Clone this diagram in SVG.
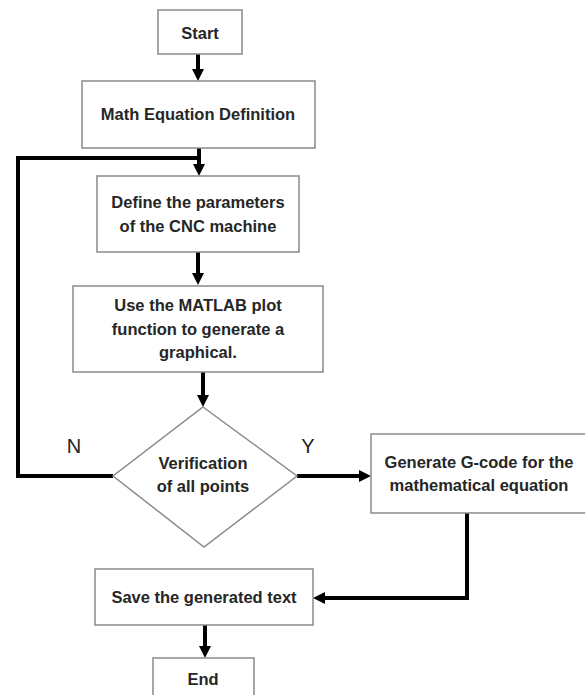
<svg xmlns="http://www.w3.org/2000/svg" width="585" height="695" viewBox="0 0 585 695">
<style>
.box{fill:#ffffff;stroke:#8a8a8a;stroke-width:1.5}
.t{font-family:"Liberation Sans",Arial,sans-serif;font-size:16.5px;font-weight:bold;fill:#262626;text-anchor:middle}
.lbl{font-family:"Liberation Sans",Arial,sans-serif;font-size:20px;fill:#222;text-anchor:middle}
.c{fill:none;stroke:#000;stroke-width:4}
</style>
<defs>
<marker id="ah" viewBox="0 0 12 12" markerWidth="12" markerHeight="12" refX="6" refY="6" orient="auto" markerUnits="userSpaceOnUse">
<path d="M0,0 L12,6 L0,12 z" fill="#000"/>
</marker>
</defs>
<rect width="585" height="695" fill="#fff"/>
<g id="connectors">
<path class="c" d="M198 54 V75" marker-end="url(#ah)"/>
<path class="c" d="M199 148 V170" marker-end="url(#ah)"/>
<path class="c" d="M113 476 H18 V158 H199"/>
<path class="c" d="M198 252 V279" marker-end="url(#ah)"/>
<path class="c" d="M203 372 V401" marker-end="url(#ah)"/>
<path class="c" d="M297 476 H365" marker-end="url(#ah)"/>
<path class="c" d="M467 513 V598 H319" marker-end="url(#ah)"/>
<path class="c" d="M205 625 V652" marker-end="url(#ah)"/>
</g>
<g id="start">
<rect class="box" x="158" y="10" width="84" height="44"/>
<text class="t" x="200" y="39">Start</text>
</g>
<g id="math">
<rect class="box" x="82" y="81" width="233" height="67"/>
<text class="t" x="198" y="120">Math Equation Definition</text>
</g>
<g id="define">
<rect class="box" x="97" y="176" width="202" height="76"/>
<text class="t" x="198" y="208">Define the parameters</text>
<text class="t" x="198" y="232">of the CNC machine</text>
</g>
<g id="matlab">
<rect class="box" x="73" y="286" width="250" height="86"/>
<text class="t" x="198" y="311">Use the MATLAB plot</text>
<text class="t" x="198" y="335">function to generate a</text>
<text class="t" x="198" y="358">graphical.</text>
</g>
<g id="verify">
<path class="box" d="M203 407 L297 476 L204 547 L113 476 Z"/>
<text class="t" x="203" y="469">Verification</text>
<text class="t" x="203" y="492">of all points</text>
</g>
<g id="gcode">
<rect class="box" x="371" y="434" width="220" height="79"/>
<text class="t" x="479" y="468">Generate G-code for the</text>
<text class="t" x="479" y="491">mathematical equation</text>
</g>
<g id="save">
<rect class="box" x="95" y="569" width="218" height="56"/>
<text class="t" x="204" y="603">Save the generated text</text>
</g>
<g id="end">
<rect class="box" x="153" y="658" width="101" height="45"/>
<text class="t" x="203" y="685">End</text>
</g>
<g id="labels">
<text class="lbl" x="74" y="453">N</text>
<text class="lbl" x="308" y="453">Y</text>
</g>
</svg>
